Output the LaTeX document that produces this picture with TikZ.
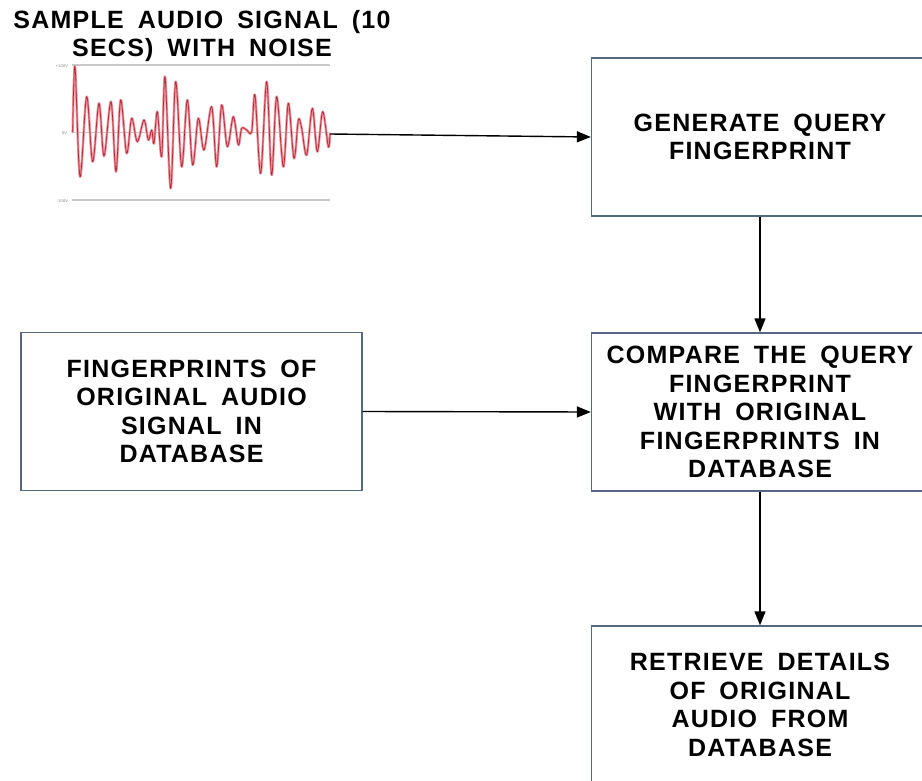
\documentclass[tikz,border=0pt]{standalone}
\usepackage{fontspec}
\setmainfont{Liberation Sans}[LetterSpace=5, WordSpace=1.7]
\usetikzlibrary{arrows.meta}
\definecolor{boxline}{RGB}{84,104,128}
\definecolor{wavelight}{RGB}{236,140,150}
\definecolor{wavecore}{RGB}{170,30,45}
\definecolor{gridgray}{RGB}{200,200,200}
\begin{document}
\begin{tikzpicture}[x=1pt,y=-1pt,
  stepbox/.style={draw=boxline, line width=1.3pt, fill=white,
    minimum width=337pt, minimum height=158pt, align=center, inner sep=0pt,
    font=\bfseries\fontsize{25}{28.5}\selectfont},
  conn/.style={line width=1.4pt, -{Triangle[length=14pt,width=11pt]}},
  axislabel/.style={font=\fontsize{4}{4}\selectfont, text=gray, anchor=east, inner sep=0pt}]
\useasboundingbox (0,0) rectangle (922,781);
\clip (0,0) rectangle (922,781);
\fill[white] (0,0) rectangle (922,781);

% title of the waveform
\node[align=center, font=\bfseries\fontsize{25}{28.5}\selectfont] (title) at (202,36)
  {SAMPLE AUDIO SIGNAL (10\\SECS) WITH NOISE};

% noisy audio waveform
\begin{scope}[x=0.33333pt, y=-0.33333pt, yshift=-50pt]
  \draw[gridgray, line width=1.2pt] (215,45) -- (990,45);
  \draw[gridgray, line width=1.2pt] (215,247) -- (990,247);
  \draw[gridgray, line width=1.2pt] (215,450) -- (990,450);
  \node[axislabel] (lbtop) at (205,47) {+100V};
  \node[axislabel] (lbzero) at (202,249) {0V};
  \node[axislabel] (lbbot) at (205,452) {-100V};
  \def\wavepts{(218,247) (225,50) (240,380) (260,140) (278,335) (297,160)
    (312,318) (333,155) (348,365) (362,150) (380,310) (395,205) (412,275)
    (432,210) (445,270) (455,240) (462,280) (472,185) (485,320) (495,80)
    (512,415) (527,95) (545,350) (562,150) (578,345) (595,205) (612,300)
    (635,170) (650,350) (665,165) (682,290) (700,200) (715,285) (725,235)
    (740,240) (755,245) (765,135) (782,370) (800,95) (815,375) (830,140)
    (850,350) (865,160) (882,325) (895,210) (905,235) (920,315) (937,175)
    (952,305) (968,185) (985,290) (990,250)}
  \draw[wavelight, line width=2.4pt, line join=round] plot[smooth, tension=0.55] coordinates {\wavepts};
  \draw[wavecore, line width=0.6pt, line join=round] plot[smooth, tension=0.55] coordinates {\wavepts};
\end{scope}
\coordinate (wend) at (330,134);

% process boxes
\node[stepbox] (gen) at (760,137) {GENERATE QUERY\\FINGERPRINT};
\node[stepbox] (cmp) at (760,412) {COMPARE THE QUERY\\FINGERPRINT\\WITH ORIGINAL\\FINGERPRINTS IN\\DATABASE};
\node[stepbox] (ret) at (760,705) {RETRIEVE DETAILS\\OF ORIGINAL\\AUDIO FROM\\DATABASE};
\node[stepbox, minimum width=341pt] (db) at (191.5,411.5) {FINGERPRINTS OF\\ORIGINAL AUDIO\\SIGNAL IN\\DATABASE};

% connectors
\draw[conn] (wend) -- (gen.west);
\draw[conn] (gen.south) -- (cmp.north);
\draw[conn] (db.east) -- (cmp.west);
\draw[conn] (cmp.south) -- (ret.north);
\end{tikzpicture}
\end{document}
